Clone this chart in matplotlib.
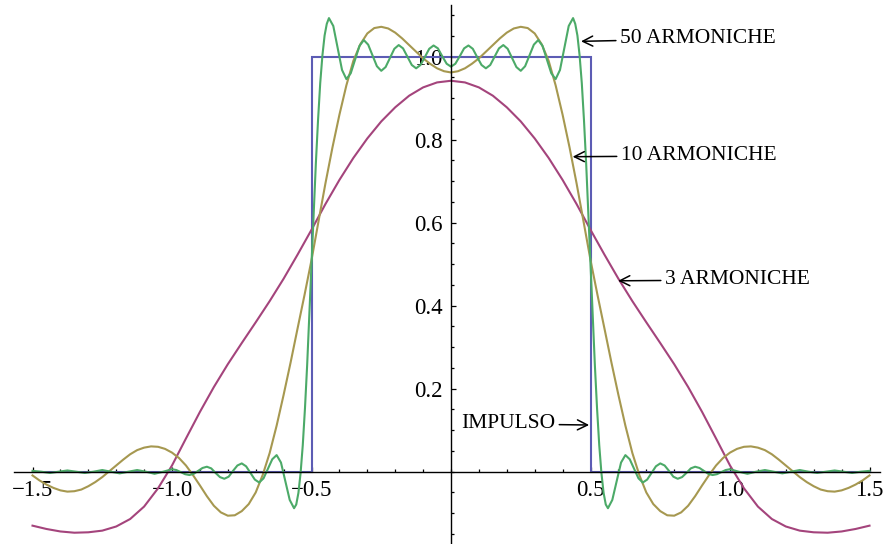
import numpy as np
import matplotlib
matplotlib.use("Agg")
import matplotlib.pyplot as plt

plt.rcParams['font.family'] = ['Liberation Serif', 'DejaVu Serif']

# impulse (rectangular pulse)
impulso_x = [-1.5, -0.5, -0.5, 0.5, 0.5, 1.5]
impulso_y = [0, 0, 1, 1, 0, 0]

# curves are even functions: values read for x >= 0, mirrored for x < 0
arm3_x = [0, 0.05, 0.1, 0.15, 0.2, 0.25, 0.3, 0.35, 0.4, 0.45, 0.5, 0.55, 0.6, 0.65, 0.7,
          0.75, 0.8, 0.85, 0.9, 0.95, 1.0, 1.05, 1.1, 1.15, 1.2, 1.25, 1.3, 1.35, 1.4, 1.45, 1.5]
arm3_y = [0.942, 0.938, 0.926, 0.906, 0.878, 0.844, 0.803, 0.756, 0.703, 0.645, 0.583, 0.523,
          0.465, 0.411, 0.360, 0.310, 0.259, 0.204, 0.144, 0.080, 0.015, -0.040, -0.084, -0.114,
          -0.132, -0.142, -0.146, -0.147, -0.144, -0.138, -0.130]

arm10_x = [0, 0.025, 0.05, 0.075, 0.1, 0.125, 0.15, 0.175, 0.2, 0.225, 0.25, 0.275, 0.3,
           0.325, 0.35, 0.375, 0.4, 0.425, 0.45, 0.475, 0.5, 0.525, 0.55, 0.575, 0.6, 0.625,
           0.65, 0.675, 0.7, 0.725, 0.75, 0.775, 0.8, 0.825, 0.85, 0.875, 0.9, 0.925, 0.95,
           0.975, 1.0, 1.025, 1.05, 1.075, 1.1, 1.125, 1.15, 1.175, 1.2, 1.225, 1.25, 1.275,
           1.3, 1.325, 1.35, 1.375, 1.4, 1.425, 1.45, 1.475, 1.5]
arm10_y = [0.962, 0.965, 0.972, 0.983, 0.996, 1.012, 1.028, 1.044, 1.058, 1.068, 1.072, 1.069,
           1.056, 1.030, 0.990, 0.931, 0.860, 0.781, 0.695, 0.603, 0.510, 0.426, 0.345, 0.263,
           0.185, 0.111, 0.045, -0.008, -0.050, -0.078, -0.095, -0.105, -0.106, -0.098, -0.082,
           -0.059, -0.033, -0.008, 0.015, 0.033, 0.046, 0.055, 0.060, 0.061, 0.058, 0.052,
           0.042, 0.029, 0.015, 0.001, -0.013, -0.025, -0.035, -0.043, -0.047, -0.048, -0.045,
           -0.039, -0.031, -0.021, -0.009]

arm50_x = [0, 0.0156, 0.0313, 0.0469, 0.0625, 0.0781, 0.0938, 0.1094, 0.125, 0.1406, 0.1563,
           0.1719, 0.1875, 0.2031, 0.2188, 0.2344, 0.25, 0.2656, 0.2813, 0.2969, 0.3125, 0.3281,
           0.3438, 0.3594, 0.375, 0.3906, 0.4063, 0.4219, 0.4375, 0.4453, 0.4531, 0.4609, 0.4688,
           0.4766, 0.4844, 0.4922, 0.5, 0.5078, 0.5156, 0.5234, 0.5313, 0.5391, 0.5469, 0.5547,
           0.5625, 0.5781, 0.5938, 0.6094, 0.625, 0.6406, 0.6563, 0.6719, 0.6875, 0.7031, 0.7188,
           0.7344, 0.75, 0.7656, 0.7813, 0.7969, 0.8125, 0.8281, 0.8438, 0.8594, 0.875, 0.8906,
           0.9063, 0.9219, 0.9375, 0.9531, 0.9688, 0.9844, 1.0, 1.0313, 1.0625, 1.0938, 1.125,
           1.1563, 1.1875, 1.2188, 1.25, 1.2813, 1.3125, 1.3438, 1.375, 1.4063, 1.4375, 1.4688, 1.5]
arm50_y = [0.976, 0.983, 1.001, 1.020, 1.027, 1.019, 0.999, 0.980, 0.972, 0.980, 1.000,
           1.020, 1.028, 1.019, 0.997, 0.975, 0.966, 0.977, 1.003, 1.029, 1.040, 1.026,
           0.993, 0.960, 0.946, 0.968, 1.021, 1.074, 1.093, 1.079, 1.051, 1.003, 0.936,
           0.847, 0.743, 0.624, 0.500, 0.376, 0.257, 0.153, 0.064, -0.003, -0.051, -0.079,
           -0.088, -0.068, -0.023, 0.022, 0.040, 0.030, 0.007, -0.016, -0.026, -0.019, -0.003,
           0.013, 0.020, 0.015, 0.002, -0.012, -0.017, -0.013, -0.003, 0.008, 0.012, 0.009,
           0.002, -0.005, -0.008, -0.006, -0.001, 0.004, 0.006, 0.000, -0.005, 0.000, 0.004,
           0.000, -0.004, 0.000, 0.004, 0.000, -0.003, 0.000, 0.003, 0.000, -0.003, 0.000, 0.002]

x_ticks = [-1.5, -1.0, -0.5, 0.5, 1.0, 1.5]
x_labels = ["\u22121.5", "\u22121.0", "\u22120.5", "0.5", "1.0", "1.5"]
y_ticks = [0.2, 0.4, 0.6, 0.8, 1.0]
y_labels = ["0.2", "0.4", "0.6", "0.8", "1.0"]

notes = [("50 ARMONICHE", (0.466, 1.037), (0.606, 1.043), "left"),
         ("10 ARMONICHE", (0.436, 0.759), (0.609, 0.761), "left"),
         ("3 ARMONICHE", (0.599, 0.460), (0.767, 0.462), "left"),
         ("IMPULSO", (0.495, 0.1125), (0.373, 0.115), "right")]


def mirror(xs, ys):
    xs = np.asarray(xs, float)
    ys = np.asarray(ys, float)
    return np.concatenate([-xs[::-1][:-1], xs]), np.concatenate([ys[::-1][:-1], ys])


fig = plt.figure(figsize=(8.86, 5.44), dpi=100)
ax = fig.add_axes([0, 0, 1, 1])

lw = 1.5
ax.plot(impulso_x, impulso_y, color="#5c5cb4", lw=lw, solid_joinstyle="miter")
x3, y3 = mirror(arm3_x, arm3_y)
ax.plot(x3, y3, color="#a4447c", lw=lw)
x10, y10 = mirror(arm10_x, arm10_y)
ax.plot(x10, y10, color="#a69850", lw=lw)
x50, y50 = mirror(arm50_x, arm50_y)
ax.plot(x50, y50, color="#4caa68", lw=lw)

ax.set_xlim(-1.6165, 1.5591)
ax.set_ylim(-0.1742, 1.1366)

for s in ["top", "right"]:
    ax.spines[s].set_visible(False)
ax.spines["left"].set_position(("data", 0))
ax.spines["bottom"].set_position(("data", 0))
ax.spines["left"].set_bounds(-0.18, 1.125)
ax.spines["bottom"].set_bounds(-1.566, 1.538)
for s in ["left", "bottom"]:
    ax.spines[s].set_linewidth(1.0)
    ax.spines[s].set_zorder(3)

ax.set_xticks(x_ticks)
ax.set_xticklabels(x_labels)
ax.set_xticks(np.round(np.arange(-1.5, 1.51, 0.1), 2), minor=True)
ax.set_yticks(y_ticks)
ax.set_yticklabels(y_labels)
ax.set_yticks(np.round(np.arange(-0.15, 1.11, 0.05), 2), minor=True)
ax.tick_params(which="both", direction="in", labelsize=16.5, width=0.9)
ax.tick_params(which="major", length=3.8, pad=6)
ax.tick_params(which="minor", length=2.3)

for text, head, pos, ha in notes:
    ax.annotate(text, xy=head, xytext=pos, ha=ha, va="center", fontsize=15.5,
                arrowprops=dict(arrowstyle="->", lw=1.1, color="black",
                                mutation_scale=18, shrinkA=1, shrinkB=0))

fig.savefig("out.png", dpi=100)
